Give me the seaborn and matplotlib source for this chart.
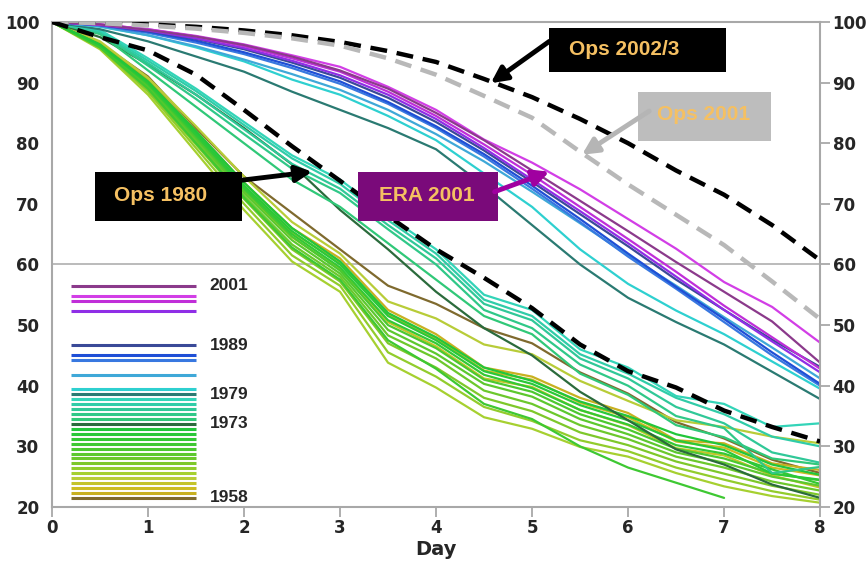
import numpy as np
import pandas as pd
import matplotlib
matplotlib.use("Agg")
import matplotlib.pyplot as plt
from matplotlib.patches import Rectangle
import seaborn as sns

# forecast day (half-day steps)
days = np.arange(0, 8.5, 0.5)

# operational runs (dashed)
ops_2002_3 = [100, 99.9, 99.6, 99.2, 98.6, 97.8, 96.7, 95.2, 93.4, 90.6, 87.6, 84.0, 80.0, 75.5, 71.5, 66.5, 60.7]
ops_2001 = [100, 99.8, 99.4, 98.9, 98.2, 97.3, 96.1, 94.0, 91.3, 87.8, 84.2, 78.6, 73.2, 68.2, 63.2, 57.2, 51.0]
ops_1980 = [100, 97.5, 95.3, 91.3, 85.5, 79.5, 73.8, 68.0, 62.5, 57.8, 52.8, 46.8, 42.4, 39.7, 35.9, 33.2, 30.8]

# ERA re-forecasts, one list per year
y2001 = [100, 99.6, 98.7, 97.6, 96.2, 94.3, 92.0, 89.0, 85.0, 80.5, 75.5, 70.5, 65.5, 60.4, 55.5, 50.6, 43.8]
y1999 = [100, 99.6, 98.8, 97.7, 96.3, 94.5, 92.6, 89.3, 85.5, 80.6, 76.8, 72.4, 67.5, 62.6, 57.1, 53.0, 47.1]
y1998 = [100, 99.6, 98.8, 97.6, 96.0, 94.0, 91.8, 88.5, 84.5, 79.8, 74.8, 69.5, 64.2, 58.8, 53.2, 48.0, 42.8]
y1996 = [100, 99.5, 98.6, 97.3, 95.7, 93.6, 91.2, 88.0, 84.0, 79.2, 74.0, 68.8, 63.5, 58.0, 52.5, 47.3, 42.2]
y1989 = [100, 99.5, 98.5, 97.2, 95.5, 93.3, 90.8, 87.5, 83.5, 78.8, 73.6, 68.3, 63.0, 57.5, 52.5, 47.6, 43.1]
y1987 = [100, 99.5, 98.4, 96.9, 95.0, 92.8, 90.2, 86.8, 82.8, 78.2, 73.0, 67.5, 61.8, 56.3, 51.0, 45.5, 40.3]
y1986 = [100, 99.4, 98.2, 96.6, 94.7, 92.4, 89.8, 86.5, 82.5, 77.8, 72.5, 67.0, 61.3, 56.0, 50.5, 45.0, 40.0]
y1983 = [100, 99.3, 97.8, 96.0, 93.8, 91.4, 88.8, 85.5, 81.5, 77.0, 72.0, 66.8, 61.5, 56.5, 51.3, 46.3, 41.2]
y1980 = [100, 99.2, 97.8, 95.8, 93.5, 90.5, 88.0, 84.5, 80.5, 75.0, 69.5, 62.5, 56.8, 52.4, 48.5, 44.0, 39.5]
y1979 = [100, 98.8, 96.8, 94.3, 91.8, 88.5, 85.5, 82.5, 79.0, 73.0, 66.5, 60.0, 54.5, 50.5, 46.8, 42.3, 37.8]
y1978 = [100, 98.7, 94.0, 89.0, 83.5, 78.0, 74.0, 68.0, 62.5, 55.0, 52.5, 46.0, 43.0, 38.3, 37.0, 33.2, 33.8]
y1977 = [100, 98.5, 93.6, 88.6, 83.0, 77.5, 73.3, 67.3, 61.8, 54.2, 51.5, 45.2, 42.0, 38.0, 35.3, 31.6, 30.0]
y1976 = [100, 98.3, 93.2, 88.0, 82.3, 76.6, 72.5, 66.5, 61.0, 53.5, 50.8, 44.5, 41.2, 36.5, 33.8, 29.0, 27.3]
y1975 = [100, 98.2, 92.8, 87.3, 81.5, 75.8, 71.8, 65.8, 60.0, 52.5, 49.5, 43.5, 40.0, 35.0, 33.0, 25.6, 26.6]
y1974 = [100, 98.0, 92.0, 86.0, 80.0, 74.0, 69.5, 63.5, 57.5, 51.5, 48.5, 42.0, 38.5, 33.5, 31.5, 28.0, 27.0]
y1973 = [100, 97.5, 93.0, 88.0, 82.5, 76.5, 69.0, 62.5, 55.5, 49.5, 45.0, 39.0, 34.3, 29.5, 27.0, 23.7, 21.5]
y1972 = [100, 96.3, 90.2, 82.0, 73.5, 66.0, 60.5, 52.0, 48.0, 43.0, 40.8, 37.4, 35.0, 32.0, 30.2, 27.0, 25.3]
y1971 = [100, 96.2, 90.0, 81.6, 73.0, 65.5, 60.0, 51.5, 47.5, 42.4, 40.3, 36.8, 34.3, 31.0, 29.4, 25.5, 24.5]
y1970 = [100, 96.2, 89.8, 81.3, 72.6, 65.0, 59.5, 50.8, 47.0, 41.8, 39.6, 36.0, 33.6, 30.2, 28.8, 26.2, 23.8]
y1969 = [100, 95.8, 89.0, 80.0, 71.0, 62.8, 57.5, 47.5, 42.8, 37.0, 34.5, 30.0, 26.5, 24.0, 21.5, np.nan, np.nan]
y1968 = [100, 96.1, 89.6, 81.0, 72.3, 64.6, 59.0, 50.0, 46.2, 41.0, 39.0, 35.3, 32.8, 29.6, 28.0, 25.5, 24.4]
y1967 = [100, 96.0, 89.4, 80.7, 71.8, 64.0, 58.5, 49.2, 45.3, 40.3, 38.2, 34.5, 32.0, 29.0, 27.3, 25.0, 23.5]
y1966 = [100, 96.0, 89.2, 80.3, 71.3, 63.3, 58.0, 48.3, 44.5, 39.2, 37.0, 33.5, 31.2, 28.3, 26.5, 24.2, 22.7]
y1965 = [100, 95.8, 88.8, 79.8, 70.8, 62.5, 57.2, 47.0, 43.0, 38.0, 35.8, 32.3, 30.2, 27.5, 25.5, 23.5, 22.0]
y1964 = [100, 95.7, 88.5, 79.2, 70.0, 61.5, 56.5, 45.5, 41.5, 36.5, 34.2, 31.0, 29.2, 26.5, 24.5, 22.6, 21.2]
y1963 = [100, 95.5, 88.0, 78.5, 69.0, 60.5, 55.5, 43.8, 39.7, 34.8, 32.9, 29.9, 28.3, 25.6, 23.4, 21.8, 20.7]
y1962 = [100, 96.8, 90.8, 82.8, 74.5, 67.0, 61.8, 53.9, 51.1, 46.8, 45.2, 40.8, 37.5, 34.3, 33.2, 31.6, 30.5]
y1961 = [100, 96.3, 90.0, 81.2, 72.0, 64.5, 59.2, 50.5, 46.5, 41.2, 39.8, 36.0, 33.5, 29.7, 28.5, 25.2, 23.2]
y1960 = [100, 96.4, 90.2, 81.5, 72.8, 65.3, 60.3, 51.8, 47.8, 42.5, 41.0, 37.2, 34.8, 30.8, 29.8, 26.5, 25.2]
y1959 = [100, 96.5, 90.5, 82.0, 73.5, 66.0, 61.0, 52.5, 48.5, 43.0, 41.5, 38.0, 35.5, 31.0, 30.5, 27.2, 26.1]
y1958 = [100, 96.5, 91.0, 82.5, 74.5, 68.5, 62.5, 56.5, 53.5, 49.5, 47.0, 42.2, 38.7, 34.0, 31.3, 27.8, 25.6]

years = [1958, 1959, 1960, 1961, 1962, 1963, 1964, 1965, 1966, 1967, 1968, 1969, 1970,
         1971, 1972, 1973, 1974, 1975, 1976, 1977, 1978, 1979, 1980, 1983, 1986, 1987,
         1989, 1996, 1998, 1999, 2001]
series = [y1958, y1959, y1960, y1961, y1962, y1963, y1964, y1965, y1966, y1967, y1968,
          y1969, y1970, y1971, y1972, y1973, y1974, y1975, y1976, y1977, y1978, y1979,
          y1980, y1983, y1986, y1987, y1989, y1996, y1998, y1999, y2001]
colors = ["#7f6a2e", "#c8b020", "#ccbc22", "#c4c42a", "#b8cc38", "#a6d030", "#92cc2c",
          "#7ec82a", "#6cc82c", "#5cc82e", "#4cc830", "#3ec832", "#34c834", "#2ac838",
          "#22c63a", "#2b6b3c", "#30c878", "#30c888", "#30c898", "#30cca8", "#33d4b8",
          "#2a7a72", "#2ed0d0", "#3fa8d8", "#3878e0", "#1f4fd6", "#3a4a98", "#8f2ee6",
          "#c02ed8", "#d23ee6", "#8b3a8b"]
legend_labels = [2001, 1989, 1979, 1973, 1958]

df = pd.DataFrame({"Day": np.tile(days, len(years)),
                   "value": np.concatenate(series),
                   "year": np.repeat(years, len(days))}).dropna()
palette = dict(zip(years, colors))

sns.set_style("white")
fig, ax = plt.subplots(figsize=(8.66, 5.63), dpi=100)
fig.subplots_adjust(left=0.060, right=0.947, bottom=0.0995, top=0.961)

ax.axhline(60, color="#b5b5b5", lw=1.3, zorder=0)
sns.lineplot(data=df, x="Day", y="value", hue="year", palette=palette,
             lw=1.6, legend=False, ax=ax, estimator=None)

ops = pd.DataFrame({"Day": np.tile(days, 3),
                    "value": np.concatenate([ops_2002_3, ops_2001, ops_1980]),
                    "run": np.repeat(["Ops 2002/3", "Ops 2001", "Ops 1980"], len(days))})
sns.lineplot(data=ops, x="Day", y="value", hue="run",
             palette={"Ops 2002/3": "black", "Ops 2001": "#b8b8b8", "Ops 1980": "black"},
             lw=3.2, legend=False, ax=ax, zorder=5)
for ln in ax.lines[-3:]:
    ln.set_dashes((3.8, 2.2))

# hand-made legend of year colours
for yr, c in zip(years, colors):
    ly = 21.5 + (yr - 1958) * 0.813
    ax.plot([0.2, 1.5], [ly, ly], color=c, lw=2.2, solid_capstyle="butt")
    if yr in legend_labels:
        ax.text(1.64, ly, str(yr), fontsize=12.5, fontweight="bold",
                family="Liberation Sans", va="center", ha="left")

gold = "#f5c062"
boxes = [  # x0, y0, w, h, face, label, text x, text y
    (5.18, 91.75, 1.84, 7.25, "black", "Ops 2002/3", 5.39, 95.4),
    (6.10, 80.4, 1.39, 8.0, "#bdbdbd", "Ops 2001", 6.30, 84.7),
    (0.45, 67.2, 1.53, 8.1, "black", "Ops 1980", 0.65, 71.4),
    (3.19, 67.1, 1.46, 8.2, "#7a0a7a", "ERA 2001", 3.41, 71.35),
]
for x0, y0, w, h, fc, lab, tx, ty in boxes:
    ax.add_patch(Rectangle((x0, y0), w, h, facecolor=fc, edgecolor="none", zorder=6))
    ax.text(tx, ty, lab, color=gold, fontsize=15, fontweight="bold",
            family="Liberation Sans", va="center", ha="left", zorder=8)

arrows = [  # tail, tip, colour
    ((5.18, 96.8), (4.57, 89.9), "black"),
    ((6.22, 85.3), (5.52, 78.1), "#b5b5b5"),
    ((1.82, 73.6), (2.71, 75.3), "black"),
    ((4.61, 72.0), (5.18, 75.3), "#a000a0"),
]
for tail, tip, c in arrows:
    ax.annotate("", xy=tip, xytext=tail, zorder=7,
                arrowprops=dict(arrowstyle="-|>", color=c, lw=3.5,
                                mutation_scale=24, shrinkA=0, shrinkB=0))

ax.set_xlim(0, 8)
ax.set_ylim(20, 100)
ax.set_xticks(range(0, 9))
ax.set_yticks(range(20, 101, 10))
ax.set_xlabel("Day", fontsize=14, fontweight="bold", labelpad=2)
ax.set_ylabel("")
for s in ax.spines.values():
    s.set_color("#a8a8a8")
    s.set_linewidth(1.5)
ax.tick_params(axis="both", direction="out", length=7, width=1.3, color="#a8a8a8",
               labelsize=12, pad=2)
ax.tick_params(axis="y", right=True, labelright=True)
ax.tick_params(axis="x", bottom=True)
for t in ax.get_xticklabels() + ax.get_yticklabels():
    t.set_fontweight("bold")

plt.savefig("out.png", dpi=100)
